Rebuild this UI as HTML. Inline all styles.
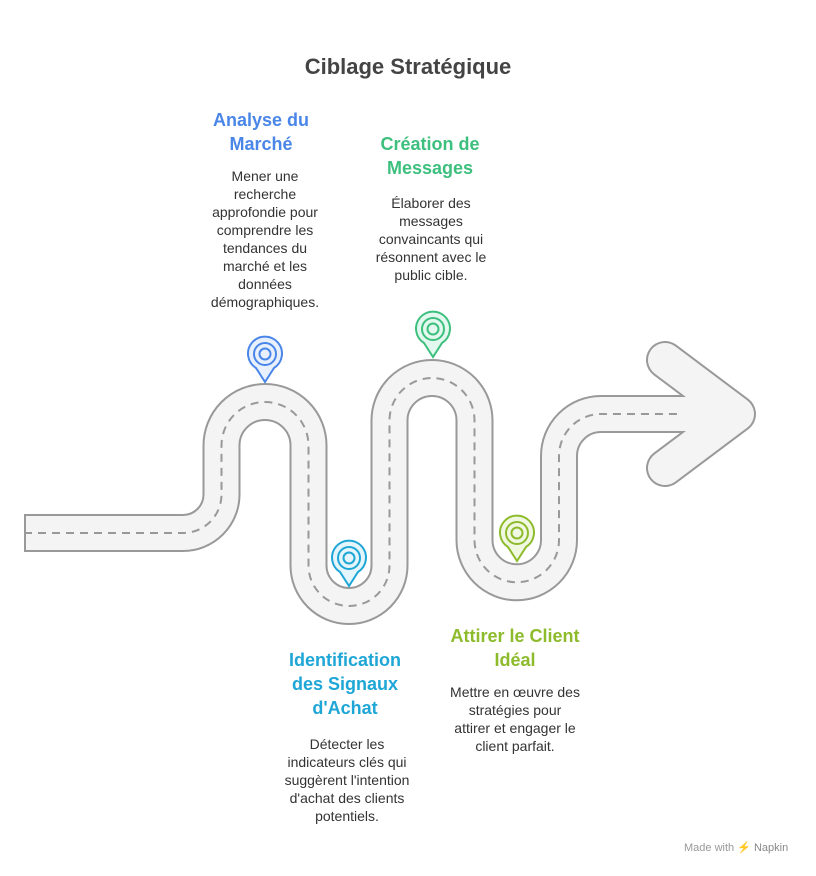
<!DOCTYPE html>
<html><head><meta charset="utf-8"><style>
html,body{margin:0;padding:0;background:#fff;}
body{width:816px;height:876px;position:relative;overflow:hidden;font-family:"Liberation Sans",sans-serif;}
.t{position:absolute;text-align:center;transform:translateX(-50%);}
.h{font-weight:bold;font-size:18px;line-height:24px;}
.b{font-size:14px;line-height:18px;color:#333;}
</style></head><body>
<div class="t" style="left:408px;top:54px;font-size:22px;font-weight:bold;color:#444;white-space:nowrap;">Ciblage Stratégique</div>

<div class="t h" style="left:261px;top:108px;color:#4a86e8;width:200px;">Analyse du<br>Marché</div>
<div class="t b" style="left:265px;top:167px;width:160px;">Mener une<br>recherche<br>approfondie pour<br>comprendre les<br>tendances du<br>marché et les<br>données<br>démographiques.</div>

<div class="t h" style="left:430px;top:132px;color:#3dbf7e;width:200px;">Création de<br>Messages</div>
<div class="t b" style="left:431px;top:194px;width:180px;">Élaborer des<br>messages<br>convaincants qui<br>résonnent avec le<br>public cible.</div>

<div class="t h" style="left:345px;top:648px;color:#1ea6d6;width:200px;">Identification<br>des Signaux<br>d'Achat</div>
<div class="t b" style="left:347px;top:735px;width:180px;">Détecter les<br>indicateurs clés qui<br>suggèrent l'intention<br>d'achat des clients<br>potentiels.</div>

<div class="t h" style="left:515px;top:624px;color:#8dbb2c;width:200px;">Attirer le Client<br>Idéal</div>
<div class="t b" style="left:515px;top:683px;width:180px;">Mettre en œuvre des<br>stratégies pour<br>attirer et engager le<br>client parfait.</div>

<div style="position:absolute;left:684px;top:841px;font-size:11px;color:#999;white-space:nowrap;">Made with <span style="color:#888;">⚡ Napkin</span></div>

<svg width="816" height="876" style="position:absolute;left:0;top:0;" xmlns="http://www.w3.org/2000/svg">
<g fill="none">
<path d="M24 533 H183 A38.5 38.5 0 0 0 221.5 494.5 V445.5 A43.5 43.5 0 0 1 308.5 445.5 V565.5 A40.5 40.5 0 0 0 389.5 565.5 V420.5 A42.5 42.5 0 0 1 474.5 420.5 V540 A42.25 42.25 0 0 0 559 540 V456 A42 42 0 0 1 601 414 H700" stroke="#999" stroke-width="38"/>
<path d="M665 360 L737 414 L665 468" stroke="#999" stroke-width="38" stroke-linecap="round" stroke-linejoin="round"/>
<path d="M26 533 H183 A38.5 38.5 0 0 0 221.5 494.5 V445.5 A43.5 43.5 0 0 1 308.5 445.5 V565.5 A40.5 40.5 0 0 0 389.5 565.5 V420.5 A42.5 42.5 0 0 1 474.5 420.5 V540 A42.25 42.25 0 0 0 559 540 V456 A42 42 0 0 1 601 414 H710" stroke="#f4f4f4" stroke-width="34"/>
<path d="M665 360 L737 414 L665 468" stroke="#f4f4f4" stroke-width="34" stroke-linecap="round" stroke-linejoin="round"/>
<path d="M710 414 L737 414" stroke="#f4f4f4" stroke-width="34"/>
<path d="M24 533 H183 A38.5 38.5 0 0 0 221.5 494.5 V445.5 A43.5 43.5 0 0 1 308.5 445.5 V565.5 A40.5 40.5 0 0 0 389.5 565.5 V420.5 A42.5 42.5 0 0 1 474.5 420.5 V540 A42.25 42.25 0 0 0 559 540 V456 A42 42 0 0 1 601 414 H679" stroke="#999" stroke-width="2" stroke-dasharray="8 6"/>
</g>
<g stroke-width="2">
<g stroke="#4a86e8" fill="#e8f0fd"><path d="M265 382 L256 368 A17 17 0 1 1 274 368 Z"/><circle cx="265" cy="354" r="11" fill="none"/><circle cx="265" cy="354" r="5.5" fill="none"/></g>
<g stroke="#1ea6d6" fill="#e4f5fb"><path d="M349 586 L340 572 A17 17 0 1 1 358 572 Z"/><circle cx="349" cy="558" r="11" fill="none"/><circle cx="349" cy="558" r="5.5" fill="none"/></g>
<g stroke="#3dbf7e" fill="#e3f8ee"><path d="M433 357 L424 343 A17 17 0 1 1 442 343 Z"/><circle cx="433" cy="329" r="11" fill="none"/><circle cx="433" cy="329" r="5.5" fill="none"/></g>
<g stroke="#8dbb2c" fill="#f1f8e2"><path d="M517 561 L508 547 A17 17 0 1 1 526 547 Z"/><circle cx="517" cy="533" r="11" fill="none"/><circle cx="517" cy="533" r="5.5" fill="none"/></g>
</g>
</svg>
</body></html>
